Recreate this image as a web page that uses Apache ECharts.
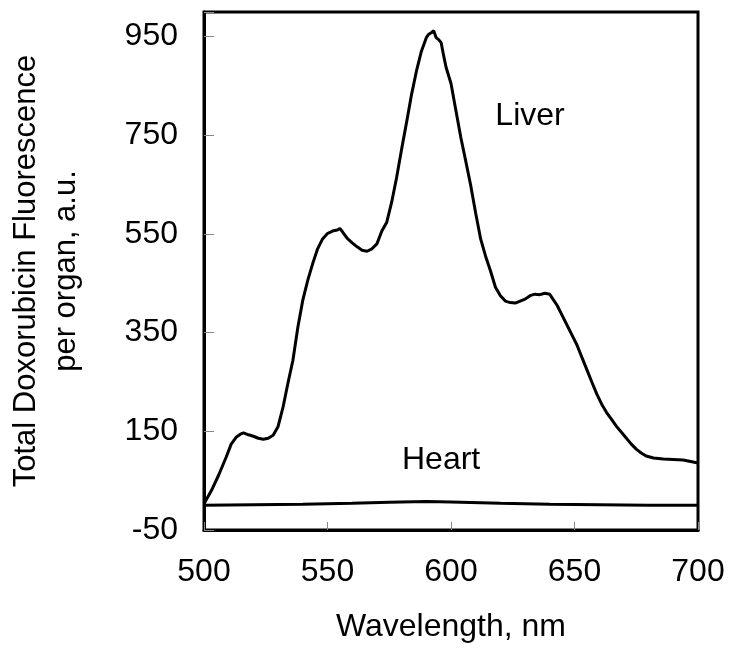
<!DOCTYPE html>
<html>
<head>
<meta charset="utf-8">
<script src="https://cdn.jsdelivr.net/npm/echarts@6/dist/echarts.min.js"></script>
<style>html,body{margin:0;padding:0;background:#fff;}#c{width:730px;height:657px;}</style>
</head>
<body>
<div id="c"></div>
<script>
const wavelengths = [500,503,506,509,511,513,515,516,518,520,522,524,526,528,530,532,534,536,538,540,542,544,546,548,550,552,554,555,556,558,560,562,564,566,568,570,572,574,576,578,580,582,584,586,588,590,591,592,593,594,595,596,597,598,600,602,604,606,608,610,612,614,616,618,620,622,624,626,628,630,632,634,636,638,640,641,643,645,647,649,651,653,655,657,659,661,663,665,667,669,671,673,675,677,679,682,686,690,694,697,700];
const liver = [3,30,62,98,124,138,145,147,143,140,136,134,136,142,160,199,248,294,361,416,456,490,520,540,551,556,558,561,555,541,532,524,517,515,520,530,556,574,615,665,722,776,832,880,920,948,955,958,962,948,944,938,912,888,855,800,745,697,648,592,540,505,475,442,425,414,411,410,414,418,425,428,427,430,428,420,405,385,365,345,325,300,275,250,226,205,188,174,160,148,136,124,114,106,100,96,94,93,92,89,86];
const heartWavelengths = [500,520,540,560,575,590,600,620,640,660,680,700];
const heart = [0,1,2,4,6,8,7,4,2,1,0,0];
const xTicks = [500,550,600,650,700];
const yTicks = [-50,150,350,550,750,950];

const FONT = 'Liberation Sans, Arial, Helvetica, sans-serif';
const chart = echarts.init(document.getElementById('c'), null, {renderer:'canvas'});
chart.setOption({
  backgroundColor:'#fff',
  animation:false,
  grid:{left:204, top:12, right:32, bottom:127, containLabel:false, outerBoundsMode:'none',
        show:true, borderColor:'#000', borderWidth:3, backgroundColor:'transparent'},
  xAxis:{
    type:'value', min:xTicks[0], max:xTicks[xTicks.length-1], interval:50,
    axisLine:{show:true, onZero:false, lineStyle:{color:'#000', width:3}},
    axisTick:{show:true, inside:true, length:8, lineStyle:{color:'#888', width:1}},
    splitLine:{show:false},
    axisLabel:{color:'#000', fontFamily:FONT, fontSize:32, margin:26},
    name:'Wavelength, nm', nameLocation:'middle', nameGap:81,
    nameTextStyle:{color:'#000', fontFamily:FONT, fontSize:32}
  },
  yAxis:{
    type:'value', min:yTicks[0], max:1000, interval:200,
    axisLine:{show:true, onZero:false, lineStyle:{color:'#000', width:3}},
    axisTick:{show:true, inside:true, length:10, lineStyle:{color:'#888', width:1}},
    splitLine:{show:false},
    axisLabel:{color:'#000', fontFamily:FONT, fontSize:32, margin:26,
      formatter:function(v){return yTicks.indexOf(v)>=0 ? String(v) : '';}},
    name:'Total Doxorubicin Fluorescence\nper organ, a.u.', nameLocation:'middle', nameGap:118, nameRotate:90,
    nameTextStyle:{color:'#000', fontFamily:FONT, fontSize:31, lineHeight:40, align:'center'}
  },
  series:[
    {
      name:'Liver', type:'line', showSymbol:false, symbol:'none', smooth:false,
      data:wavelengths.map((w,i)=>[w, liver[i]]),
      lineStyle:{color:'#000', width:3},
      markPoint:{
        symbol:'circle', symbolSize:1, itemStyle:{color:'rgba(0,0,0,0)'},
        label:{show:true, position:'inside', formatter:'{b}', color:'#000', fontFamily:FONT, fontSize:32},
        data:[{name:'Liver', coord:[632, 788]}]
      }
    },
    {
      name:'Heart', type:'line', showSymbol:false, symbol:'none', smooth:false,
      data:heartWavelengths.map((w,i)=>[w, heart[i]]),
      lineStyle:{color:'#000', width:3},
      markPoint:{
        symbol:'circle', symbolSize:1, itemStyle:{color:'rgba(0,0,0,0)'},
        label:{show:true, position:'inside', formatter:'{b}', color:'#000', fontFamily:FONT, fontSize:32},
        data:[{name:'Heart', coord:[596, 92]}]
      }
    }
  ]
});
</script>
</body>
</html>
